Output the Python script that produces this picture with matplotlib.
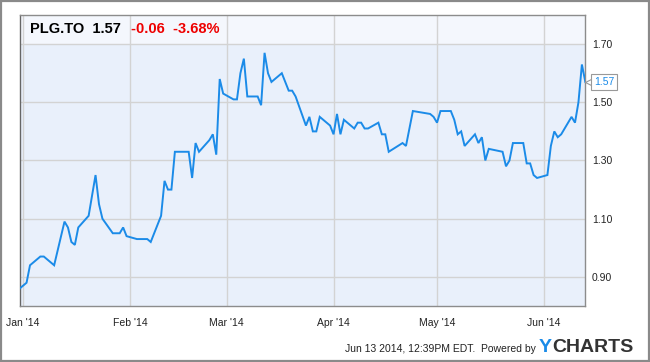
import matplotlib
matplotlib.use("Agg")
import matplotlib.pyplot as plt
import matplotlib.dates as mdates
from matplotlib.patches import Rectangle
import numpy as np

plt.rcParams['font.family'] = ['Liberation Sans', 'DejaVu Sans']

# price path of PLG.TO
dates = ["2013-12-31", "2014-01-02", "2014-01-03", "2014-01-06", "2014-01-07", "2014-01-10",
         "2014-01-13", "2014-01-14", "2014-01-15", "2014-01-16", "2014-01-17", "2014-01-20",
         "2014-01-22", "2014-01-23", "2014-01-24", "2014-01-27", "2014-01-29", "2014-01-30",
         "2014-01-31", "2014-02-03", "2014-02-06", "2014-02-07", "2014-02-10", "2014-02-11",
         "2014-02-12", "2014-02-13", "2014-02-14", "2014-02-18", "2014-02-19", "2014-02-20",
         "2014-02-21", "2014-02-24", "2014-02-25", "2014-02-26", "2014-02-27", "2014-02-28",
         "2014-03-03", "2014-03-04", "2014-03-05", "2014-03-06", "2014-03-07", "2014-03-10",
         "2014-03-11", "2014-03-12", "2014-03-13", "2014-03-14", "2014-03-17", "2014-03-19",
         "2014-03-20", "2014-03-21", "2014-03-24", "2014-03-25", "2014-03-26", "2014-03-27",
         "2014-03-28", "2014-03-31", "2014-04-01", "2014-04-02", "2014-04-03", "2014-04-04",
         "2014-04-07", "2014-04-08", "2014-04-09", "2014-04-10", "2014-04-11", "2014-04-14",
         "2014-04-15", "2014-04-16", "2014-04-17", "2014-04-21", "2014-04-22", "2014-04-24",
         "2014-04-29", "2014-04-30", "2014-05-01", "2014-05-02", "2014-05-05", "2014-05-06",
         "2014-05-07", "2014-05-08", "2014-05-09", "2014-05-12", "2014-05-13", "2014-05-14",
         "2014-05-15", "2014-05-16", "2014-05-20", "2014-05-21", "2014-05-22", "2014-05-23",
         "2014-05-26", "2014-05-27", "2014-05-28", "2014-05-29", "2014-05-30", "2014-06-02",
         "2014-06-03", "2014-06-04", "2014-06-05", "2014-06-06", "2014-06-09", "2014-06-10",
         "2014-06-11", "2014-06-12", "2014-06-13"]
prices = [0.86, 0.88, 0.94, 0.97, 0.97, 0.94,
          1.09, 1.07, 1.02, 1.01, 1.07, 1.11,
          1.25, 1.15, 1.10, 1.05, 1.05, 1.07,
          1.04, 1.03, 1.03, 1.02, 1.11, 1.23,
          1.20, 1.20, 1.33, 1.33, 1.24, 1.36,
          1.33, 1.37, 1.39, 1.32, 1.58, 1.53,
          1.51, 1.51, 1.60, 1.65, 1.52, 1.52,
          1.49, 1.67, 1.60, 1.57, 1.60, 1.54,
          1.54, 1.52, 1.42, 1.45, 1.40, 1.40,
          1.45, 1.42, 1.39, 1.46, 1.39, 1.44,
          1.41, 1.43, 1.43, 1.41, 1.41, 1.43,
          1.39, 1.39, 1.33, 1.36, 1.35, 1.47,
          1.46, 1.45, 1.43, 1.47, 1.47, 1.44,
          1.39, 1.40, 1.35, 1.39, 1.36, 1.38,
          1.30, 1.34, 1.33, 1.28, 1.30, 1.36,
          1.36, 1.29, 1.29, 1.25, 1.24, 1.25,
          1.35, 1.40, 1.38, 1.39, 1.45, 1.43,
          1.50, 1.63, 1.57]

month_ticks = ["2014-01-01", "2014-02-01", "2014-03-01", "2014-04-01", "2014-05-01", "2014-06-01"]
month_labels = ["Jan '14", "Feb '14", "Mar '14", "Apr '14", "May '14", "Jun '14"]
y_ticks = [0.90, 1.10, 1.30, 1.50, 1.70]

W, H = 650, 362


def fx(x):
    return x / W


def fy(y):
    return 1 - y / H


x = mdates.datestr2num(dates)
xt = mdates.datestr2num(month_ticks)

fig = plt.figure(figsize=(6.5, 3.62), dpi=100)
fig.patch.set_facecolor("white")
fig.patches.append(Rectangle((0.001, 0.002), 0.997, 0.995, transform=fig.transFigure,
                             fill=False, edgecolor="#8a8a8a", linewidth=1.6))

ax = fig.add_axes([fx(20), fy(306), (585 - 20) / W, (306 - 15) / H])
ax.set_facecolor("#e9f0fb")
ax.axhspan(1.70, 1.80, color="#f4f7fd", zorder=0.1, linewidth=0)

ax.plot(x, prices, color="#1b8be8", linewidth=1.4, zorder=3, solid_joinstyle="miter")

ax.set_xlim(xt[0] - 0.9, xt[0] + 162.9)
ax.set_ylim(0.80, 1.80)
ax.set_xticks(xt)
ax.set_xticklabels(month_labels)
ax.set_yticks(y_ticks)
ax.set_yticklabels(["%.2f" % v for v in y_ticks])
ax.yaxis.tick_right()
ax.tick_params(axis="both", length=0, labelsize=7.5, colors="#222222")
ax.tick_params(axis="x", pad=9)
ax.tick_params(axis="y", pad=5)
ax.grid(True, color="#d3d3d3", linewidth=1)
ax.set_axisbelow(True)
for s in ax.spines.values():
    s.set_color("#8c8c8c")
    s.set_linewidth(1)
ax.spines["left"].set_color("#666666")

# header
fig.text(fx(30), fy(29), "PLG.TO  1.57", fontsize=10.5, fontweight="bold", color="black", va="center")
fig.text(fx(131), fy(29), "-0.06  -3.68%", fontsize=10.5, fontweight="bold", color="#ee0000", va="center")

# last price flag
last = prices[-1]
ax.plot([1.0075], [last], marker="<", markersize=6, markerfacecolor="white",
        markeredgecolor="#999999", markeredgewidth=0.8,
        transform=ax.get_yaxis_transform(), clip_on=False, zorder=5)
ax.text(1.016, last, "%.2f" % last, transform=ax.get_yaxis_transform(), fontsize=7.5,
        color="#1b8be8", va="center", ha="left", zorder=6,
        bbox=dict(boxstyle="square,pad=0.25", facecolor="white", edgecolor="#999999", linewidth=0.8))

# footer
fig.text(fx(536), fy(349), "Jun 13 2014, 12:39PM EDT.  Powered by", fontsize=7.5, color="#222222",
         ha="right", va="center")
fig.text(fx(539), fy(348), "Y", fontsize=14, fontweight="bold", color="#1b8be8", va="center")
fig.text(fx(552), fy(348), "CHARTS", fontsize=14, fontweight="bold", color="#333333", va="center")

fig.savefig("out.png", dpi=100)
